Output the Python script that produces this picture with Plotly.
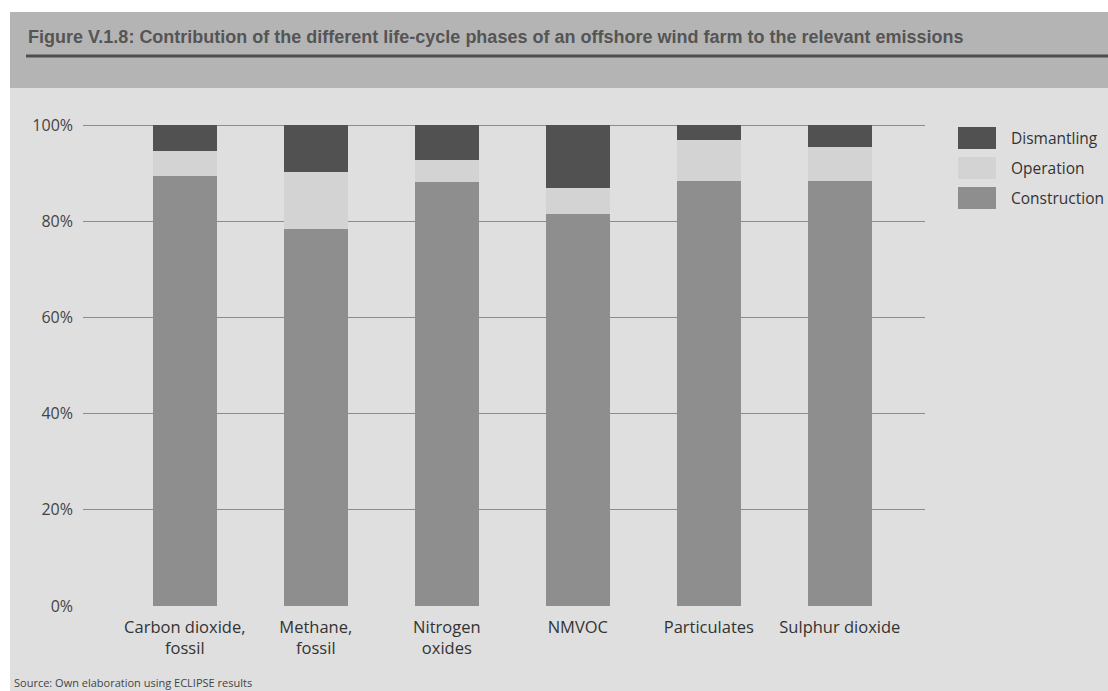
import plotly.graph_objects as go

# Emission categories and the share of each life-cycle phase (%)
categories = ["Carbon dioxide,<br>fossil", "Methane,<br>fossil", "Nitrogen<br>oxides",
              "NMVOC", "Particulates", "Sulphur dioxide"]
construction = [89.5, 78.5, 88.3, 81.5, 88.5, 88.5]
operation = [5.2, 11.8, 4.5, 5.5, 8.4, 7.1]
dismantling = [5.3, 9.7, 7.2, 13.0, 3.1, 4.4]

phase_names = ["Dismantling", "Operation", "Construction"]
phase_colors = ["#515151", "#d3d3d3", "#8e8e8e"]

tick_vals = [0, 20, 40, 60, 80, 100]
tick_text = ["0%", "20%", "40%", "60%", "80%", "100%"]

W, H = 1108, 691
L, R, T, B = 83, 183, 124, 85
pw, ph = W - L - R, H - T - B
BODY_FONT = "Open Sans, sans-serif"


def px(x):
    return (x - L) / pw


def py(y):
    return (H - B - y) / ph


fig = go.Figure()
series = {"Construction": construction, "Operation": operation, "Dismantling": dismantling}
color_of = dict(zip(phase_names, phase_colors))
xs = list(range(len(categories)))
for name in ["Construction", "Operation", "Dismantling"]:
    fig.add_trace(go.Bar(
        x=xs, y=series[name], name=name, width=0.49,
        marker=dict(color=color_of[name], line=dict(width=0)),
        showlegend=False,
    ))

shapes = [
    # header band
    dict(type="rect", xref="paper", yref="paper", x0=px(10), x1=px(W), y0=py(88), y1=py(12),
         fillcolor="#b4b4b4", line=dict(width=0), layer="below"),
    # rule under the heading
    dict(type="line", xref="paper", yref="paper", x0=px(26), x1=px(W), y0=py(56), y1=py(56),
         line=dict(color="#4e4e4e", width=3), layer="below"),
    # body panel
    dict(type="rect", xref="paper", yref="paper", x0=px(10), x1=px(W), y0=py(H), y1=py(88),
         fillcolor="#dfdfdf", line=dict(width=0), layer="below"),
]

annotations = [
    dict(text="<b>Figure V.1.8: Contribution of the different life-cycle phases of an offshore wind farm to the relevant emissions</b>",
         xref="paper", yref="paper", x=px(26), y=py(37), xanchor="left", yanchor="middle",
         showarrow=False, font=dict(family="Liberation Sans, Arial, sans-serif",
                                    size=18, color="#555555")),
    dict(text="Source: Own elaboration using ECLIPSE results",
         xref="paper", yref="paper", x=px(12), y=py(683), xanchor="left", yanchor="middle",
         showarrow=False, font=dict(family=BODY_FONT, size=11, color="#444444")),
]

# legend boxes, top to bottom
for i, name in enumerate(phase_names):
    y0 = 127 + i * 30
    shapes.append(dict(type="rect", xref="paper", yref="paper", x0=px(958), x1=px(996),
                       y0=py(y0 + 22), y1=py(y0), fillcolor=phase_colors[i], line=dict(width=0)))
    annotations.append(dict(text=name, xref="paper", yref="paper", x=px(1009), y=py(y0 + 11),
                            xanchor="left", yanchor="middle", showarrow=False,
                            font=dict(family=BODY_FONT, size=15.5, color="#333333")))

fig.update_layout(
    width=W, height=H,
    margin=dict(l=L, r=R, t=T, b=B),
    paper_bgcolor="white", plot_bgcolor="rgba(0,0,0,0)",
    barmode="stack", bargap=0.51,
    shapes=shapes, annotations=annotations,
    font=dict(family=BODY_FONT, size=16, color="#333333"),
    xaxis=dict(range=[-0.777, 5.65], tickvals=xs, ticktext=categories, showgrid=False,
               zeroline=False, showline=False, ticks="", tickfont=dict(size=16.5),
               ticklabelstandoff=9),
    yaxis=dict(range=[0, 100.3], tickvals=tick_vals, ticktext=tick_text, showgrid=True,
               gridcolor="#8c8c8c", gridwidth=1, zeroline=False, showline=False,
               ticks="", tickfont=dict(size=16, color="#444444"), ticklabelstandoff=9),
)

fig.write_html("out.html")
